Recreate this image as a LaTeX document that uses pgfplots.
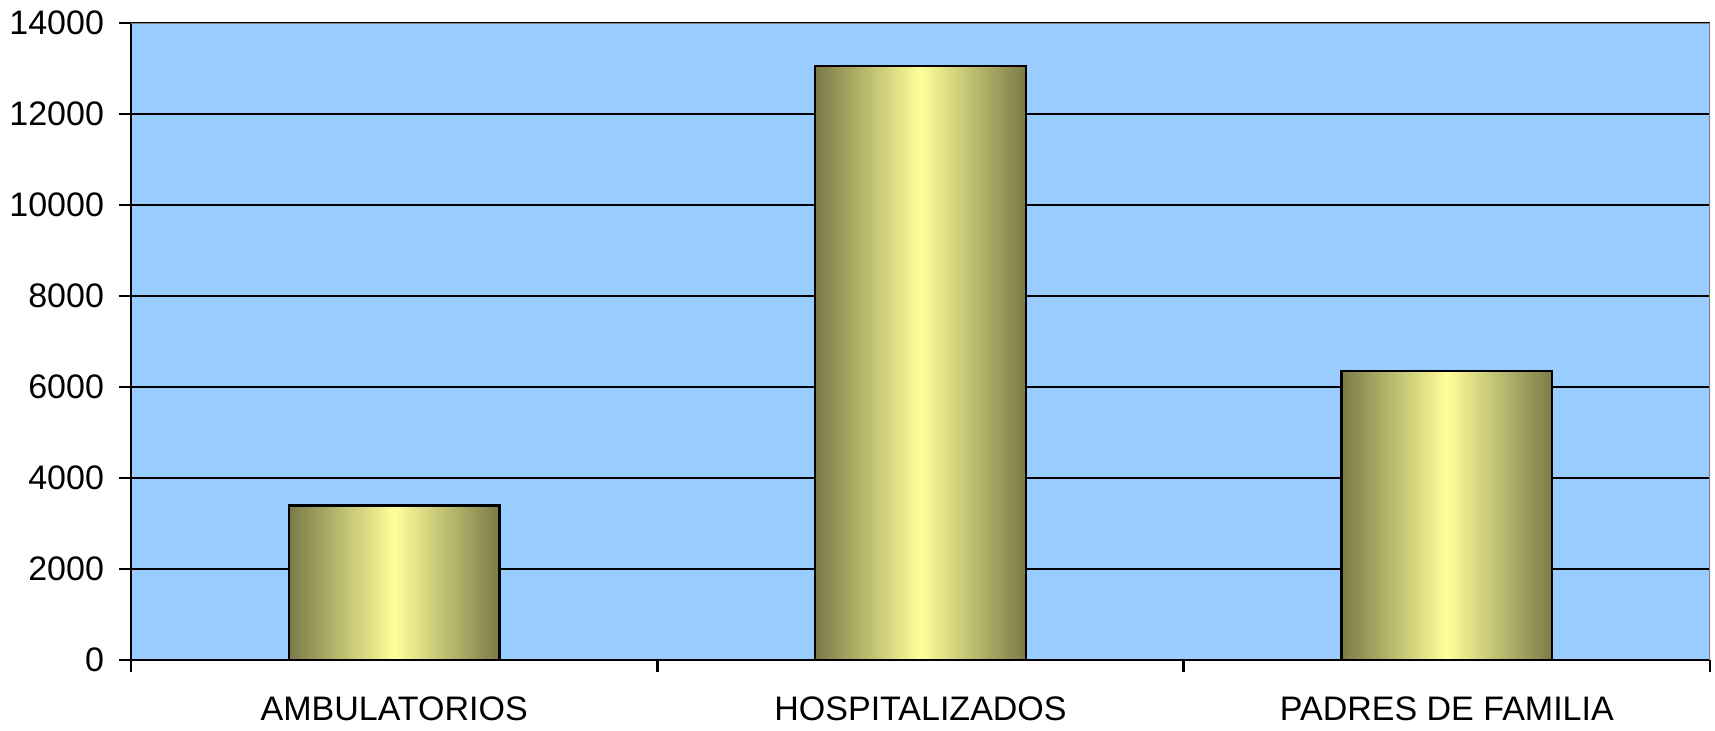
\documentclass[border=0pt]{standalone}
\usepackage{pgfplots}
\pgfplotsset{compat=1.18}
\usepackage{fontspec}
\setmainfont{Liberation Sans}
\definecolor{bgblue}{HTML}{99CCFF}
\definecolor{barolive}{HTML}{7A7A48}
\definecolor{barpale}{HTML}{FFFF99}
\begin{document}
\begin{tikzpicture}
\begin{axis}[
    scale only axis,
    width=789.5pt, height=318.5pt,
    xmin=-0.5, xmax=2.5,
    ymin=0, ymax=14000,
    axis background/.style={fill=bgblue},
    axis x line*=bottom, axis y line*=left,
    axis line style={black, line width=1.2pt, -},
    xtick={-0.5,0.5,1.5,2.5}, xticklabels={},
    extra x ticks={0,1,2},
    extra x tick labels={AMBULATORIOS,HOSPITALIZADOS,PADRES DE FAMILIA},
    extra x tick style={major tick length=0pt, grid=none,
        tick label style={yshift=-15pt}},
    ytick={0,2000,...,12000,14000},
    scaled y ticks=false,
    yticklabel style={xshift=-4pt},
    ymajorgrids,
    grid style={black, line width=1.2pt},
    tick align=outside,
    major tick length=6pt,
    tick style={black, line width=1.2pt},
    tick label style={font=\fontsize{17}{20}\selectfont},
    /pgf/number format/assume math mode=true,
    /pgf/number format/1000 sep={},
    shadedbar/.style={ybar, bar width=0.4, bar shift=0pt,
        draw=black, line width=1.2pt, mark=none,
        left color=barolive, right color=barolive, middle color=barpale},
]
% one plot per bar so each bar gets its own shading
\addplot[shadedbar] coordinates {(0,3400)};
\addplot[shadedbar] coordinates {(1,13050)};
\addplot[shadedbar] coordinates {(2,6350)};
\draw[gray, line width=1.2pt] (rel axis cs:0,1) -- (rel axis cs:1,1) -- (rel axis cs:1,0);
\end{axis}
\pgfresetboundingbox
\path (-65.5pt,-35pt) rectangle (792pt,330pt);
\end{tikzpicture}
\end{document}
